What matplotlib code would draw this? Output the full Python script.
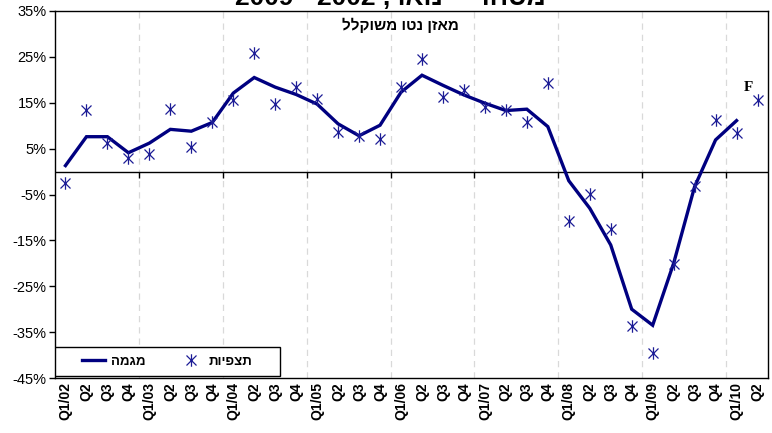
"""Net weighted balance: observations vs. trend, Q1/02 - Q2/10."""

import matplotlib
matplotlib.use("Agg")
import matplotlib.pyplot as plt
import numpy as np
from matplotlib.lines import Line2D
from matplotlib.patches import Rectangle
from matplotlib.path import Path

plt.rcParams["font.family"] = ["Liberation Sans", "DejaVu Sans"]

quarters = [
    "Q1/02", "Q2", "Q3", "Q4",
    "Q1/03", "Q2", "Q3", "Q4",
    "Q1/04", "Q2", "Q3", "Q4",
    "Q1/05", "Q2", "Q3", "Q4",
    "Q1/06", "Q2", "Q3", "Q4",
    "Q1/07", "Q2", "Q3", "Q4",
    "Q1/08", "Q2", "Q3", "Q4",
    "Q1/09", "Q2", "Q3", "Q4",
    "Q1/10", "Q2",
]

# observed net balance (%), last point is the forecast
observed = [
    -2.5, 13.4, 6.2, 2.9,
    3.8, 13.6, 5.4, 10.9,
    15.6, 25.9, 14.7, 18.4,
    15.8, 8.7, 7.8, 7.0,
    18.4, 24.5, 16.2, 17.8,
    14.0, 13.4, 10.7, 19.4,
    -10.8, -4.9, -12.5, -33.7,
    -39.6, -20.1, -3.1, 11.2,
    8.5, 15.6,
]

# trend line (%), no value for the forecast quarter
trend = [
    1.3, 7.6, 7.6, 4.1,
    6.2, 9.2, 8.8, 10.7,
    17.1, 20.5, 18.4, 16.8,
    14.7, 10.4, 7.8, 10.1,
    17.3, 21.0, 18.8, 16.7,
    14.9, 13.3, 13.6, 9.8,
    -2.0, -8.0, -16.0, -30.0,
    -33.5, -20.0, -3.3, 6.9,
    11.1, np.nan,
]

y_ticks = [-45, -35, -25, -15, -5, 5, 15, 25, 35]


def heb(text):
    # matplotlib has no bidi support: feed Hebrew in visual order
    return text[::-1]


NAVY = "#000080"
MARK = "#1c1c96"

# asterisk-like marker: an X with a vertical bar through it
star = Path(
    [(-1, -1), (1, 1), (-1, 1), (1, -1), (0, -1.25), (0, 1.25)],
    [Path.MOVETO, Path.LINETO, Path.MOVETO, Path.LINETO, Path.MOVETO, Path.LINETO],
)

fig = plt.figure(figsize=(7.72, 4.33), dpi=100)
ax = fig.add_axes([55 / 772, 1 - 378 / 433, 713 / 772, 367 / 433])

x = np.arange(len(quarters))
ymin, ymax = -45, 35
year_bounds = np.arange(3.5, len(quarters) - 1, 4)

for b in year_bounds:
    ax.axvline(b, color="#d9d9d9", lw=0.9, ls=(0, (5, 4)), zorder=0)
ax.axhline(0, color="black", lw=1.0, zorder=1)
# small tick marks hanging under the zero line at each year boundary
ax.plot(year_bounds, np.zeros(len(year_bounds)), ls="none", marker=3,
        ms=4, mew=1.0, color="black", zorder=1)

ax.plot(x, trend, color=NAVY, lw=2.4, solid_joinstyle="miter", zorder=3)
ax.plot(x, observed, ls="none", marker=star, ms=9, mew=0.9,
        color=MARK, mec=MARK, zorder=4)

ax.text(x[-1] - 0.2, observed[-1] + 1.2, "F", fontsize=11, fontweight="bold",
        family="Liberation Serif", ha="right", va="bottom", color="black")

ax.set_xlim(-0.5, len(quarters) - 0.5)
ax.set_ylim(ymin, ymax)
ax.set_yticks(y_ticks)
ax.set_yticklabels([f"{v}%" for v in y_ticks], fontsize=10.5)
ax.set_xticks(x)
ax.set_xticklabels(quarters, rotation=90, fontsize=10, fontweight="bold")
ax.tick_params(axis="x", length=0, pad=3)
ax.tick_params(axis="y", length=4, width=1, direction="out", pad=2)
for s in ax.spines.values():
    s.set_linewidth(1.0)
    s.set_color("black")

ax.text(0.484, 0.962, heb("מאזן נטו משוקלל"), transform=ax.transAxes,
        ha="center", va="center", fontsize=11, fontweight="bold")

# legend: framed box in the lower left corner, entries centred inside
box = (0, 0.005, 225 / 713, 29 / 367)
ax.add_patch(Rectangle(box[:2], box[2], box[3], transform=ax.transAxes,
                       facecolor="white", edgecolor="black", lw=1.0, zorder=5))
handles = [
    Line2D([], [], color=NAVY, lw=2.4),
    Line2D([], [], ls="none", marker=star, ms=9, mew=0.9, color=MARK),
]
leg = ax.legend(handles, [heb("מגמה"), heb("תצפיות")], ncol=2,
                loc="center", bbox_to_anchor=box, frameon=False,
                prop={"weight": "bold", "size": 9.5},
                handlelength=1.7, handletextpad=0.5, columnspacing=2.6)
leg.set_zorder(6)

fig.text(390 / 772, 1 - 5 / 433, "2009 - 2002 ," + heb("ינואר") + " - " + heb("מסחר"),
         ha="center", va="baseline", fontsize=19, fontweight="bold")

fig.savefig("out.png", dpi=100)
